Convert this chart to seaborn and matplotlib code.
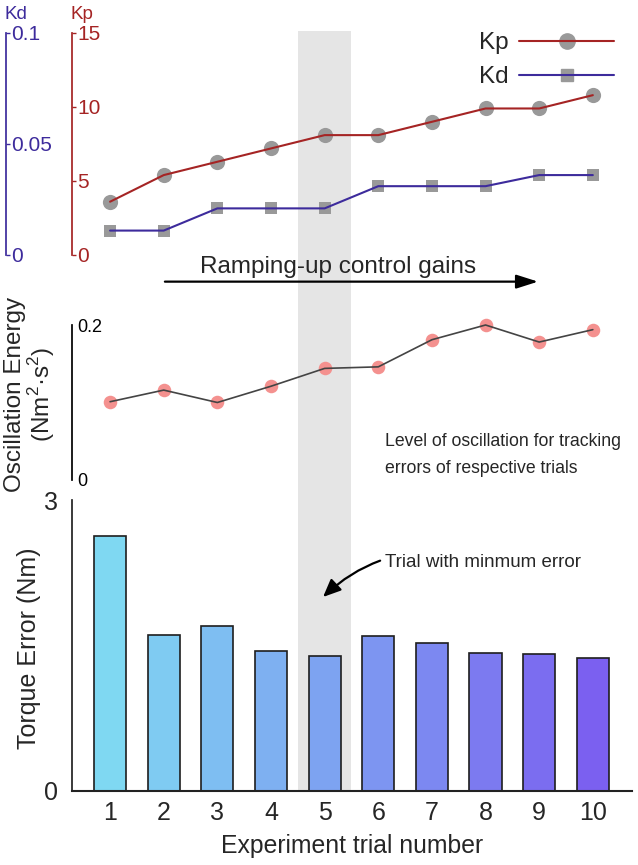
import numpy as np
import pandas as pd
import matplotlib
matplotlib.use('Agg')
import matplotlib.pyplot as plt
from matplotlib.lines import Line2D
import seaborn as sns

# ---------------------------------------------------------------------------
# data
# ---------------------------------------------------------------------------
trials = [1, 2, 3, 4, 5, 6, 7, 8, 9, 10]
kp_gain = [3.6, 5.4, 6.3, 7.2, 8.1, 8.1, 9.0, 9.9, 9.9, 10.8]
kd_gain = [0.011, 0.011, 0.021, 0.021, 0.021, 0.031, 0.031, 0.031, 0.036, 0.036]
osc_energy = [0.101, 0.116, 0.100, 0.121, 0.144, 0.146, 0.181, 0.200, 0.178, 0.194]
torque_error = [2.63, 1.61, 1.70, 1.44, 1.39, 1.60, 1.53, 1.42, 1.41, 1.37]
highlight_trial = 5

kp_ticks = [0, 5, 10, 15]
kd_ticks = [0, 0.05, 0.1]
kd_ticklabels = ['0', '0.05', '0.1']
osc_ticks = [0, 0.2]
osc_ticklabels = ['0', '0.2']
err_ticks = [0, 3]

df = pd.DataFrame({'trial': trials, 'kp': kp_gain, 'kd': kd_gain,
                   'osc': osc_energy, 'err': torque_error})

# ---------------------------------------------------------------------------
# style
# ---------------------------------------------------------------------------
sns.set_theme(style='white')
plt.rcParams['font.family'] = ['Liberation Sans', 'DejaVu Sans']
plt.rcParams['mathtext.fontset'] = 'custom'
plt.rcParams['mathtext.rm'] = 'Liberation Sans'

KP_COLOR = '#a52424'
KD_COLOR = '#3d2b9c'
MARK_GRAY = '#999999'
PINK = '#f4918f'
BAND = '#e5e5e5'

W, H = 638, 865
fig = plt.figure(figsize=(W / 100, H / 100), dpi=100)


def fig_rect(x0, y_top, x1, y_bot):
    return [x0 / W, 1 - y_bot / H, (x1 - x0) / W, (y_bot - y_top) / H]


XL, XR = 72, 632
xlim = (0.29, 10.73)

# background band over all panels
ax_bg = fig.add_axes(fig_rect(XL, 31, XR, 791), zorder=-1)
ax_bg.set_xlim(*xlim)
ax_bg.axvspan(highlight_trial - 0.49, highlight_trial + 0.49, color=BAND, lw=0)
ax_bg.axis('off')

ax_top = fig.add_axes(fig_rect(XL, 33, XR, 255))
ax_mid = fig.add_axes(fig_rect(XL, 325, XR, 480))
ax_bot = fig.add_axes(fig_rect(XL, 500, XR, 791))
for ax in (ax_top, ax_mid, ax_bot):
    ax.set_facecolor('none')
    ax.set_xlim(*xlim)
    for s in ('top', 'right', 'bottom'):
        ax.spines[s].set_visible(False)


def labels_right_of_spine(ax, color, size, pad=-4):
    ax.tick_params(axis='y', direction='in', length=3, width=1, color=color,
                   labelcolor=color, labelsize=size, pad=pad)
    for lab in ax.get_yticklabels():
        lab.set_horizontalalignment('left')


# ---------------------------------------------------------------------------
# 1. control gains
# ---------------------------------------------------------------------------
ax_kd = ax_top.twinx()
ax_kd.set_facecolor('none')
for s in ('top', 'right', 'bottom'):
    ax_kd.spines[s].set_visible(False)
ax_kd.spines['left'].set_visible(True)
ax_kd.spines['left'].set_position(('axes', -66 / (XR - XL)))
ax_kd.yaxis.set_ticks_position('left')
ax_kd.yaxis.set_label_position('left')

sns.scatterplot(data=df, x='trial', y='kp', ax=ax_top, color=MARK_GRAY,
                marker='o', s=120, linewidth=0, zorder=2)
sns.lineplot(data=df, x='trial', y='kp', ax=ax_top, color=KP_COLOR, lw=1.5, zorder=3)
sns.scatterplot(data=df, x='trial', y='kd', ax=ax_kd, color=MARK_GRAY,
                marker='s', s=78, linewidth=0, zorder=2)
sns.lineplot(data=df, x='trial', y='kd', ax=ax_kd, color=KD_COLOR, lw=1.5, zorder=3)

ax_top.set_ylim(0, 15)
ax_top.set_yticks(kp_ticks)
ax_top.spines['left'].set_color(KP_COLOR)
labels_right_of_spine(ax_top, KP_COLOR, 15)
ax_top.set_xticks([])
ax_top.set_xlabel('')
ax_top.set_ylabel('Kp', rotation=0, ha='left', va='bottom', color=KP_COLOR, fontsize=13.5)
ax_top.yaxis.set_label_coords(-0.003, 1.045)

ax_kd.set_xlim(*xlim)
ax_kd.set_ylim(0, 0.1)
ax_kd.set_yticks(kd_ticks)
ax_kd.set_yticklabels(kd_ticklabels)
ax_kd.spines['left'].set_color(KD_COLOR)
labels_right_of_spine(ax_kd, KD_COLOR, 15)
ax_kd.set_xticks([])
ax_kd.set_xlabel('')
ax_kd.set_ylabel('Kd', rotation=0, ha='left', va='bottom', color=KD_COLOR, fontsize=13.5)
ax_kd.yaxis.set_label_coords(-66 / (XR - XL) - 0.003, 1.045)

h_kp = (Line2D([], [], marker='o', ls='none', color=MARK_GRAY, markersize=11),
        Line2D([], [], color=KP_COLOR, lw=1.5))
h_kd = (Line2D([], [], marker='s', ls='none', color=MARK_GRAY, markersize=9),
        Line2D([], [], color=KD_COLOR, lw=1.5))
ax_top.legend([h_kp, h_kd], ['Kp', 'Kd'], loc='upper right',
              bbox_to_anchor=(614 / W, 1 - 32 / H), bbox_transform=fig.transFigure,
              frameon=False, markerfirst=False, fontsize=17.5, handlelength=3.9,
              handletextpad=0.45, labelspacing=0.5, borderpad=0, borderaxespad=0)

ax_top.annotate('', xy=(9.03, -0.12), xytext=(1.97, -0.12),
                xycoords=ax_top.get_xaxis_transform(),
                arrowprops=dict(arrowstyle='-|>,head_length=1.1,head_width=0.35',
                                color='black', lw=1.6), annotation_clip=False)
ax_top.text(0.475, -0.053, 'Ramping-up control gains', transform=ax_top.transAxes,
            ha='center', va='center', fontsize=17.5)

# ---------------------------------------------------------------------------
# 2. oscillation energy
# ---------------------------------------------------------------------------
sns.scatterplot(data=df, x='trial', y='osc', ax=ax_mid, color=PINK,
                s=95, linewidth=0, zorder=2, clip_on=False)
sns.lineplot(data=df, x='trial', y='osc', ax=ax_mid, color='#444444', lw=1.2,
             zorder=3, clip_on=False)
ax_mid.set_ylim(0, 0.2)
ax_mid.set_yticks(osc_ticks)
ax_mid.set_yticklabels(osc_ticklabels)
ax_mid.spines['left'].set_color('black')
labels_right_of_spine(ax_mid, 'black', 13)
ax_mid.set_xticks([])
ax_mid.set_xlabel('')
ax_mid.set_ylabel('Oscillation Energy\n(Nm$^2$·s$^2$)', fontsize=17.5, linespacing=1.0)
ax_mid.yaxis.set_label_coords(-0.027, 0.55)
fig.text(385 / W, 1 - 455 / H, 'Level of oscillation for tracking\nerrors of respective trials',
         fontsize=12.7, ha='left', va='center', linespacing=1.7)

# ---------------------------------------------------------------------------
# 3. torque error bars
# ---------------------------------------------------------------------------
bar_colors = sns.blend_palette(['#7fd8f2', '#7b60f0'], len(trials))
sns.barplot(data=df, x='trial', y='err', hue='trial', palette=bar_colors,
            native_scale=True, width=0.6, saturation=1, errorbar=None,
            edgecolor='#1e1e1e', linewidth=1.2, legend=False, ax=ax_bot)
ax_bot.set_xlim(*xlim)
ax_bot.set_ylim(0, 3)
ax_bot.set_yticks(err_ticks)
ax_bot.spines['left'].set_color('#222222')
ax_bot.spines['bottom'].set_visible(True)
ax_bot.spines['bottom'].set_color('#222222')
ax_bot.spines['bottom'].set_linewidth(1.5)
ax_bot.tick_params(axis='y', direction='in', length=4, labelsize=18, pad=10)
ax_bot.set_xticks(trials)
ax_bot.set_xticklabels([str(t) for t in trials])
ax_bot.tick_params(axis='x', length=0, labelsize=18, pad=7)
ax_bot.set_xlabel('Experiment trial number', fontsize=17.8, labelpad=7)
ax_bot.set_ylabel('Torque Error (Nm)', fontsize=18)
ax_bot.yaxis.set_label_coords(-0.055, 0.49)
ax_bot.annotate('Trial with minmum error', xy=(highlight_trial - 0.03, 2.0),
                xytext=(6.12, 2.36), ha='left', va='center', fontsize=13.5,
                arrowprops=dict(arrowstyle='-|>,head_length=0.8,head_width=0.35',
                                color='black', lw=1.6,
                                connectionstyle='arc3,rad=0.3', shrinkA=1, shrinkB=0))

fig.savefig('out.png', dpi=100)
